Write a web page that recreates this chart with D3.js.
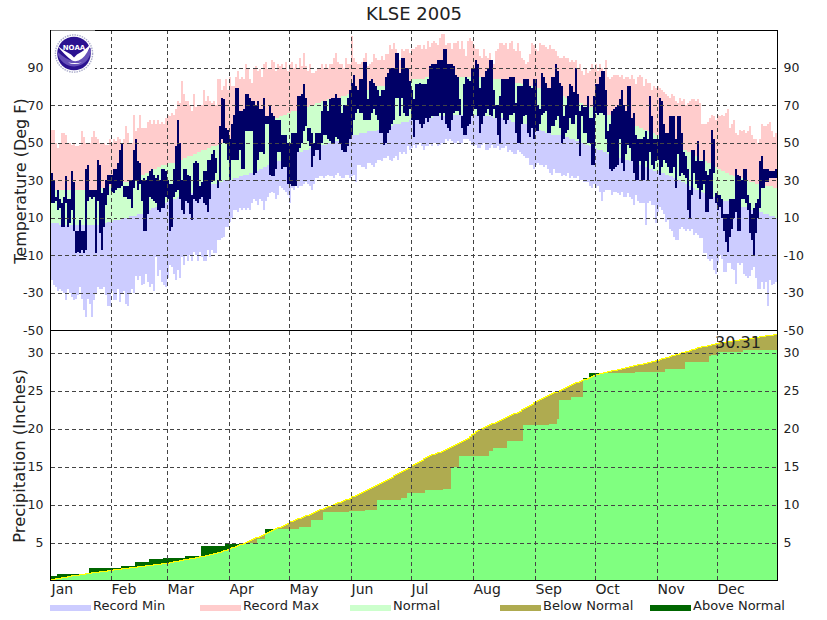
<!DOCTYPE html>
<html>
<head>
<meta charset="utf-8">
<title>KLSE 2005</title>
<script src="https://cdnjs.cloudflare.com/ajax/libs/d3/7.8.5/d3.min.js"></script>
<style>
  html, body { margin: 0; padding: 0; background: #fff; }
  text { font-family: "DejaVu Sans", sans-serif; fill: #222; }
  .grid line { stroke: #444; stroke-width: 1; stroke-dasharray: 4 3; }
</style>
</head>
<body>
<div class="canvas"></div>
<script>
/////////////////////////////////////////////////////
///////////// values ///////////
/////////////////////////////////////////////////////

// one line per month, one value per day (Deg F)
const recMin = [
  -23,-26,-27,-29,-28,-29,-30,-34,-28,-30,-32,-34,-33,-31,-27,-33,-39,-43,-33,-36,-43,-34,-30,-27,-28,-28,-27,-31,-37,-37,-29,
  -34,-34,-28,-35,-30,-29,-36,-37,-30,-28,-30,-21,-23,-21,-26,-25,-20,-24,-27,-25,-29,-11,-21,-18,-24,-26,-27,-22,
  -15,-16,-20,-23,-18,-22,-11,-15,-10,-13,-10,-13,-8,-10,-13,-8,-11,-13,-13,-7,-11,-7,-9,-9,-2,-2,-1,0,5,5,8,
  10,14,14,13,15,14,15,14,15,14,18,20,19,17,20,19,14,19,21,23,24,23,20,22,27,26,25,24,22,18,
  26,25,27,26,27,27,28,29,28,27,25,28,31,31,32,32,31,32,33,32,32,31,33,34,32,31,31,33,33,31,32,
  33,29,38,38,37,37,36,39,39,38,37,39,41,41,40,42,42,43,41,40,42,43,41,45,44,45,44,48,46,47,
  49,47,49,50,48,46,48,48,50,48,50,50,48,49,50,50,52,51,52,51,50,50,51,50,50,52,52,52,51,49,48,
  49,47,47,49,50,46,46,47,49,47,47,48,46,47,47,48,45,46,45,44,44,46,45,44,43,42,42,38,38,36,38,
  39,38,38,37,38,36,34,33,36,34,34,34,32,33,32,34,31,32,31,31,32,30,30,29,29,29,27,26,28,26,
  27,24,19,24,25,25,25,22,24,24,23,22,24,21,21,23,21,20,17,22,19,18,18,18,6,18,19,17,17,7,13,
  16,14,12,8,9,4,3,0,-2,-2,4,5,4,3,4,3,4,1,2,1,-1,-1,-9,-9,-12,-13,-12,-18,-20,-14,
  -10,-12,-19,-19,-14,-14,-17,-18,-25,-14,-15,-14,-20,-21,-22,-21,-18,-16,-22,-28,-28,-24,-28,-24,-37,-23,-26,-25,-24,-23,-22
];
const normLow = [
  7,7,7,7,6,6,6,6,6,6,6,6,6,6,6,6,6,6,6,6,6,6,6,6,7,7,7,7,8,8,8,
  9,9,9,9,10,10,10,10,11,11,11,11,12,12,12,13,13,14,14,15,15,16,16,17,17,18,18,19,
  19,20,20,20,21,21,21,22,22,22,23,23,24,24,25,25,26,26,27,27,27,28,28,28,29,29,29,30,30,30,30,
  30,31,31,31,32,32,33,33,33,34,34,35,35,35,36,36,37,37,38,38,39,39,39,40,40,41,41,42,42,43,
  43,44,44,45,45,45,46,46,46,47,47,47,48,48,48,49,49,49,50,50,50,51,51,51,52,52,52,53,53,53,54,
  54,54,54,55,55,55,55,56,56,56,56,56,57,57,57,57,58,58,59,59,60,60,60,60,61,61,61,61,62,62,
  62,62,62,63,63,63,63,63,63,63,64,64,64,64,64,64,64,64,64,64,65,65,65,65,65,65,65,65,65,65,65,
  65,65,65,64,64,64,64,64,64,63,63,63,63,63,62,62,62,62,61,61,61,61,60,60,60,60,60,59,59,58,58,
  57,57,56,56,55,55,55,54,54,54,54,54,54,53,53,53,52,52,52,51,51,50,50,50,49,49,48,48,47,47,
  46,46,46,45,45,44,44,43,43,43,42,42,42,41,41,41,40,40,39,39,39,38,38,37,37,36,36,36,35,35,35,
  35,34,34,33,33,32,32,31,31,30,30,29,29,28,27,27,26,26,25,25,24,24,23,23,22,22,21,21,21,20,
  20,20,19,19,19,18,18,18,17,17,17,16,16,16,15,15,14,14,14,13,13,13,12,12,12,11,11,11,10,10,10
];
const normHigh = [
  25,25,25,25,25,25,25,25,25,25,25,25,25,25,25,25,25,25,25,25,25,25,25,25,26,26,26,26,26,27,27,
  27,27,28,28,28,29,29,29,30,30,31,31,32,32,33,33,34,34,35,35,36,36,37,37,38,38,38,39,
  39,39,39,40,40,41,41,42,42,43,43,43,44,44,45,45,46,46,46,47,47,48,48,48,49,49,50,50,51,51,52,
  52,53,53,54,54,55,55,56,56,57,57,58,58,59,59,59,60,60,61,61,62,62,63,63,64,64,65,65,66,66,
  67,67,67,68,68,68,69,69,69,70,70,70,71,71,71,72,72,72,73,73,73,73,74,74,74,75,75,75,76,76,76,
  77,77,77,77,78,78,78,78,79,79,79,79,80,80,80,80,80,81,81,81,81,82,82,82,82,83,83,83,83,84,
  84,84,84,84,84,84,85,85,85,85,85,85,85,85,85,85,85,85,85,85,85,85,85,85,85,85,85,85,85,85,85,
  85,85,85,85,85,84,84,84,84,84,84,84,84,83,83,83,83,83,83,82,82,82,82,81,81,81,81,80,80,80,80,
  79,79,79,78,78,78,77,77,77,76,76,76,75,75,74,74,74,73,73,72,72,71,71,70,70,70,69,69,68,68,
  67,67,67,66,66,65,65,64,64,64,63,63,62,62,61,61,61,60,60,59,59,58,58,57,57,56,56,55,55,54,54,
  53,53,52,52,51,50,50,49,49,48,47,47,46,46,45,45,44,43,43,42,41,41,40,40,39,39,38,38,37,36,
  36,35,35,34,34,33,33,32,32,31,31,31,30,30,30,29,29,29,28,28,28,28,27,27,27,27,27,26,26,26,26
];
const recMax = [
  57,57,50,47,50,55,55,54,50,50,49,50,48,48,49,56,53,50,50,50,53,56,53,52,50,50,50,49,49,52,50,
  52,51,53,52,50,52,59,55,50,50,65,56,58,65,58,58,58,61,62,60,62,60,62,60,61,60,63,65,
  64,66,65,68,72,71,83,76,72,72,70,67,76,69,70,70,70,78,72,75,72,71,72,70,84,84,78,80,84,78,85,
  80,80,85,88,84,85,84,92,90,84,82,90,91,88,89,85,92,93,89,90,94,93,88,92,91,92,90,93,88,92,
  93,90,92,89,95,91,98,91,88,92,87,87,88,90,89,92,90,92,90,92,92,95,98,93,92,92,90,95,92,92,107,
  95,93,92,92,93,95,98,91,92,93,97,95,94,94,96,94,97,97,102,100,103,100,95,94,100,99,100,100,98,100,
  100,101,102,102,100,102,100,104,101,103,104,103,102,106,108,108,102,103,103,100,103,103,104,100,104,100,96,104,106,104,102,
  100,100,96,95,100,96,95,98,94,92,99,100,103,103,102,103,100,103,104,100,99,103,99,95,94,92,93,97,103,102,100,
  99,103,102,102,101,100,102,100,100,99,96,95,95,96,95,95,93,94,93,94,90,92,88,86,90,87,88,92,90,92,
  88,92,90,88,94,85,84,85,86,86,86,85,86,84,85,85,84,86,84,81,85,86,85,80,84,82,82,78,80,79,80,
  79,78,77,76,75,74,76,75,72,71,74,72,73,70,71,72,73,73,72,73,71,60,60,60,61,63,65,64,62,65,
  64,65,64,66,68,58,60,62,55,54,57,56,57,55,56,59,54,52,52,50,52,60,59,59,60,61,56,53,55,59,52
];
const obsLow = [
  18,18,19,14,15,5,5,18,5,7,14,3,-9,-8,-9,-7,-9,-7,19,21,20,21,-9,19,2,-7,5,17,22,28,24,
  23,25,26,26,27,21,21,20,20,15,26,30,25,28,19,3,3,12,21,20,19,18,14,13,15,15,21,20,
  3,5,21,24,25,20,14,12,19,18,12,9,20,19,18,20,21,18,17,13,20,29,30,34,26,30,52,50,50,41,30,
  41,41,41,41,46,36,36,56,56,56,56,33,34,41,45,45,44,60,60,33,32,32,36,45,45,36,37,37,28,28,
  27,27,27,45,47,50,56,59,51,48,37,43,46,46,41,50,54,54,52,51,50,50,53,52,50,46,45,45,48,52,54,
  62,66,68,66,66,62,62,62,62,66,68,65,62,55,55,49,50,55,57,60,62,74,74,64,74,66,64,64,68,62,
  53,62,62,60,58,60,63,61,63,64,64,64,64,66,62,66,60,58,56,62,66,67,67,65,58,54,54,59,60,64,68,
  68,64,55,60,64,66,68,65,64,68,63,54,50,66,62,60,62,65,65,66,55,50,50,60,64,65,55,53,58,52,56,
  56,60,65,66,67,55,55,59,59,62,64,58,50,52,55,57,63,60,60,65,52,43,64,55,55,50,50,38,38,66,
  65,66,66,65,52,45,36,35,36,37,38,52,39,35,44,49,47,40,34,30,30,40,30,30,40,30,45,38,36,40,41,
  33,37,41,39,37,34,34,37,26,44,32,34,33,31,14,10,22,34,28,26,20,25,28,13,13,20,20,34,18,14,
  16,10,3,-3,-8,0,4,10,13,3,3,20,20,18,14,2,-2,-10,2,10,15,26,26,29,29,31,31,31,31,32,32
];
const obsHigh = [
  34,30,21,25,20,18,21,32,20,20,35,29,3,3,9,3,3,36,38,25,25,25,25,41,38,23,26,30,33,33,33,
  36,36,39,46,50,27,27,27,30,30,46,52,40,39,30,31,30,32,35,36,33,31,33,30,36,36,35,30,
  28,28,36,48,62,50,30,36,36,33,32,22,39,40,39,27,29,35,35,41,41,44,46,42,30,59,74,73,58,57,52,
  60,65,79,79,67,67,68,76,76,74,72,72,70,72,68,68,74,64,64,70,66,64,62,62,62,54,54,54,50,50,
  55,55,55,75,75,76,81,74,58,58,55,50,55,55,55,67,72,72,67,73,74,74,76,74,74,66,70,70,74,78,82,
  86,80,78,84,84,93,93,73,83,84,82,80,78,75,78,78,85,87,90,90,90,98,98,87,95,95,90,90,83,78,
  73,81,81,82,81,81,81,84,91,92,92,92,94,94,94,100,100,92,92,92,91,86,85,73,64,81,85,84,83,90,90,
  94,92,79,85,85,88,90,94,94,78,70,70,75,84,84,84,84,85,85,85,71,80,80,80,84,84,84,80,79,84,84,
  70,68,87,85,82,79,79,85,85,92,88,82,80,64,70,75,81,80,77,90,76,67,70,69,69,75,63,63,75,81,
  81,85,88,88,78,56,60,67,68,69,70,73,78,70,67,80,80,63,66,54,52,52,52,53,56,52,75,64,52,52,52,
  74,72,60,55,55,64,64,64,52,64,64,55,45,43,36,25,46,46,40,51,40,40,46,35,33,36,57,52,23,22,
  22,20,12,12,12,20,20,20,36,33,32,30,36,36,22,18,12,15,18,20,40,43,36,36,36,35,35,35,36,36,36
];

// cumulative precipitation (Inches), one value per day
const precipNormal = [
  0.1,0.15,0.2,0.25,0.3,0.35,0.4,0.45,0.5,0.55,0.6,0.65,0.7,0.72,0.75,0.8,0.85,0.88,0.92,0.95,1.0,1.02,1.06,1.1,1.12,1.16,1.2,1.24,1.28,1.32,1.36,
  1.4,1.43,1.47,1.5,1.53,1.56,1.6,1.63,1.67,1.7,1.73,1.76,1.8,1.83,1.87,1.9,1.93,1.96,2.0,2.03,2.07,2.1,2.13,2.16,2.2,2.23,2.27,2.3,
  2.35,2.4,2.45,2.5,2.55,2.6,2.65,2.7,2.75,2.8,2.85,2.9,2.95,3.0,3.05,3.1,3.15,3.2,3.27,3.33,3.4,3.47,3.53,3.6,3.67,3.75,3.83,3.92,4.0,4.1,4.2,
  4.3,4.4,4.5,4.6,4.7,4.8,4.9,5.0,5.12,5.24,5.36,5.48,5.6,5.72,5.84,5.96,6.08,6.2,6.32,6.44,6.56,6.68,6.8,6.92,7.04,7.16,7.28,7.4,7.55,7.7,
  7.8,7.9,8.0,8.1,8.2,8.3,8.4,8.5,8.6,8.72,8.84,8.96,9.08,9.2,9.3,9.4,9.5,9.6,9.7,9.8,9.9,10.0,10.1,10.2,10.3,10.4,10.5,10.6,10.7,10.85,11.0,
  11.12,11.24,11.36,11.48,11.6,11.72,11.84,11.96,12.08,12.2,12.35,12.5,12.64,12.78,12.92,13.06,13.2,13.34,13.48,13.62,13.76,13.9,14.03,14.16,14.3,14.44,14.58,14.72,14.9,15.1,
  15.25,15.4,15.55,15.7,15.85,16,16.15,16.3,16.42,16.54,16.62,16.7,16.78,16.86,16.94,17.05,17.2,17.35,17.5,17.65,17.75,17.85,18,18.15,18.3,18.45,18.6,18.75,18.95,19.15,19.4,
  19.55,19.7,19.85,20,20.12,20.24,20.36,20.48,20.6,20.72,20.84,20.96,21.08,21.2,21.32,21.44,21.56,21.68,21.8,21.92,22.04,22.16,22.3,22.44,22.58,22.72,22.86,23,23.2,23.4,23.6,
  23.72,23.84,23.96,24.08,24.2,24.32,24.44,24.56,24.68,24.8,24.92,25.04,25.16,25.28,25.4,25.52,25.64,25.76,25.88,26,26.1,26.2,26.3,26.4,26.5,26.6,26.7,26.85,27,27.1,
  27.16,27.22,27.28,27.34,27.4,27.46,27.52,27.58,27.64,27.7,27.76,27.82,27.88,27.94,28,28.06,28.12,28.18,28.24,28.3,28.36,28.42,28.48,28.54,28.6,28.66,28.72,28.78,28.84,28.92,29,
  29.08,29.16,29.24,29.32,29.4,29.48,29.56,29.64,29.72,29.8,29.88,29.96,30.04,30.12,30.2,30.28,30.36,30.44,30.52,30.6,30.68,30.74,30.8,30.86,30.92,30.98,31.04,31.1,31.15,31.2,
  31.26,31.3,31.34,31.38,31.42,31.46,31.5,31.54,31.58,31.62,31.66,31.7,31.74,31.78,31.82,31.86,31.9,31.94,31.98,32.02,32.06,32.1,32.14,32.18,32.22,32.25,32.28,32.31,32.34,32.37,32.4
];
const precipObserved = [
  0.55,0.55,0.55,0.83,0.83,0.83,0.83,0.83,0.83,0.83,0.83,0.83,0.83,0.83,0.83,0.83,0.83,0.83,0.83,1.58,1.58,1.58,1.58,1.58,1.58,1.58,1.58,1.58,1.58,1.58,1.58,
  1.58,1.58,1.58,1.58,1.93,1.93,1.93,1.93,1.93,1.93,1.93,2.5,2.5,2.5,2.5,2.5,2.5,2.5,2.8,2.8,2.8,2.8,2.8,2.8,2.8,2.94,2.94,2.94,
  2.94,2.94,2.94,2.94,2.94,2.94,2.94,2.94,3.2,3.2,3.2,3.2,3.2,3.2,3.2,3.2,4.5,4.5,4.5,4.5,4.5,4.5,4.5,4.5,4.5,4.5,4.5,4.5,4.8,4.8,4.8,
  4.8,4.8,4.8,4.8,4.8,4.8,4.8,4.8,4.8,5.0,5.0,5.0,5.0,5.5,5.5,5.5,5.5,6.8,6.8,6.8,6.8,6.8,6.8,6.8,6.8,6.8,6.8,6.8,6.8,6.8,
  6.8,6.8,6.8,6.8,7,7,7,7.1,7.1,7.1,8,8,8,8,8,8,9,9,9,9,9,9,9,9,9,9,9,9,9,9.2,9.2,
  9.2,9.2,9.2,9.2,9.2,9.2,9.3,9.3,9.3,9.3,9.3,9.3,10.6,10.6,10.6,10.6,10.6,10.6,10.6,10.6,10.6,10.6,10.6,10.6,10.85,10.85,10.85,11.5,11.5,11.5,
  11.5,11.5,11.5,11.5,11.5,11.5,11.9,11.9,11.9,11.9,11.9,11.9,11.9,11.9,11.9,12.1,12.1,12.1,12.1,14.9,14.9,14.9,14.9,16.4,16.4,16.4,16.4,16.4,16.4,16.4,16.4,
  16.4,16.4,16.4,16.4,16.4,16.4,16.4,17,17,17.5,17.5,17.5,17.5,17.5,17.5,17.5,18.4,18.4,18.4,18.4,18.4,18.4,18.4,18.4,20.4,20.4,20.4,20.4,20.4,20.4,20.4,
  20.4,20.5,20.5,20.5,20.5,20.5,20.6,20.6,20.6,20.6,21.2,23.8,23.8,23.8,23.8,23.8,23.8,24.2,24.2,24.2,24.2,24.2,24.2,26.7,26.7,26.7,27.3,27.3,27.3,27.3,
  27.3,27.3,27.3,27.3,27.3,27.3,27.3,27.3,27.3,27.3,27.3,27.3,27.3,27.3,27.3,27.3,27.3,27.3,27.3,27.5,27.5,27.5,27.5,27.5,27.5,27.5,27.5,27.5,27.5,27.5,27.5,
  27.5,27.5,27.5,27.85,27.85,27.85,27.85,27.85,27.85,27.85,27.85,27.85,27.85,28.7,28.7,28.7,28.7,28.7,28.7,28.7,28.7,28.7,28.7,28.7,28.8,29.5,29.7,29.7,29.7,30.1,
  30.1,30.1,30.1,30.1,30.1,30.1,30.1,30.1,30.1,30.1,30.1,30.1,30.31,30.31,30.31,30.31,30.31,30.31,30.31,30.31,30.31,30.31,30.31,30.31,30.31,30.31,30.31,30.31,30.31,30.31,30.31
];

const months = ['Jan', 'Feb', 'Mar', 'Apr', 'May', 'Jun', 'Jul', 'Aug', 'Sep', 'Oct', 'Nov', 'Dec'];
const monthDays = [1, 31, 59, 90, 120, 151, 181, 212, 243, 273, 304, 334];
const tempTicks = [-50, -30, -10, 10, 30, 50, 70, 90];
const precipTicks = [5, 10, 15, 20, 25, 30];
const precipTotal = '30.31';

const legendNames = ['Record Min', 'Record Max', 'Normal', 'Below Normal', 'Above Normal'];
const legendColors = ['#ccccff', '#ffcccc', '#ccffcc', '#afab50', '#006600'];

/////////////////////////////////////////////////////
///////////////// chart set up //////////////////////
/////////////////////////////////////////////////////

const dims = { width: 827, height: 620, left: 50.5, right: 777.5, top: 30, mid: 330.5, bottom: 580.5 };
const days = d3.range(1, recMin.length + 1);

const svg = d3.select('.canvas')
  .append('svg')
  .attr('width', dims.width)
  .attr('height', dims.height)
  .style('display', 'block');

svg.append('clipPath').attr('id', 'plot')
  .append('rect')
  .attr('x', dims.left)
  .attr('y', dims.top)
  .attr('width', dims.right - dims.left)
  .attr('height', dims.bottom - dims.top);

// every day is exactly 2px wide
const x = d3.scaleLinear().domain([1, 365]).range([51, 779]);
const yTemp = d3.scaleLinear().domain([-50, 110]).range([dims.mid, dims.top]);
const yPrecip = d3.scaleLinear().domain([0, 32.9]).range([dims.bottom, dims.mid]);

const marks = svg.append('g').attr('clip-path', 'url(#plot)');

/////////////////////////////////////////////////////
//////////////// temperature panel //////////////////
/////////////////////////////////////////////////////

// one band of daily bars from lo[] up to hi[]
const band = (lo, hi, color) => {
  marks.append('g')
    .attr('shape-rendering', 'crispEdges')
    .selectAll('rect')
    .data(days)
    .enter()
    .append('rect')
    .attr('x', d => x(d))
    .attr('width', 2)
    .attr('y', d => yTemp(hi[d - 1]))
    .attr('height', d => Math.max(0, yTemp(lo[d - 1]) - yTemp(hi[d - 1])))
    .attr('fill', color);
};

band(recMin, normLow, '#ccccff');
band(normLow, normHigh, '#ccffcc');
band(normHigh, recMax, '#ffcccc');
band(obsLow, obsHigh, '#000066');

/////////////////////////////////////////////////////
/////////////// precipitation panel /////////////////
/////////////////////////////////////////////////////

const precipArea = values => d3.area()
  .curve(d3.curveStepAfter)
  .x(d => x(d))
  .y0(dims.bottom)
  .y1(d => yPrecip(values(d)))(days);

// above normal sits behind, normal covers it, what actually fell goes on top
const precipMarks = marks.append('g').attr('shape-rendering', 'crispEdges');
precipMarks.append('path').attr('d', precipArea(d => precipObserved[d - 1])).attr('fill', '#006600');
precipMarks.append('path').attr('d', precipArea(d => precipNormal[d - 1])).attr('fill', '#afab50');
precipMarks.append('path')
  .attr('d', precipArea(d => Math.min(precipNormal[d - 1], precipObserved[d - 1])))
  .attr('fill', '#80ff80');

precipMarks.append('path')
  .attr('d', d3.line().curve(d3.curveStepAfter).x(d => x(d)).y(d => yPrecip(precipNormal[d - 1]))(days))
  .attr('fill', 'none')
  .attr('stroke', '#ffff00')
  .attr('stroke-width', 1);

/////////////////////////////////////////////////////
///////////////// grid and axes /////////////////////
/////////////////////////////////////////////////////

const grid = svg.append('g').attr('class', 'grid').attr('shape-rendering', 'crispEdges');

grid.selectAll('.v')
  .data(monthDays.slice(1))
  .enter()
  .append('line')
  .attr('x1', d => x(d) + 0.5)
  .attr('x2', d => x(d) + 0.5)
  .attr('y1', dims.top)
  .attr('y2', dims.bottom);

grid.selectAll('.t')
  .data(tempTicks.slice(1))
  .enter()
  .append('line')
  .attr('x1', dims.left)
  .attr('x2', dims.right)
  .attr('y1', d => Math.round(yTemp(d)) + 0.5)
  .attr('y2', d => Math.round(yTemp(d)) + 0.5);

grid.selectAll('.p')
  .data(precipTicks)
  .enter()
  .append('line')
  .attr('x1', dims.left)
  .attr('x2', dims.right)
  .attr('y1', d => Math.round(yPrecip(d)) + 0.5)
  .attr('y2', d => Math.round(yPrecip(d)) + 0.5);

// frame and the line between the two panels
svg.append('rect')
  .attr('x', dims.left)
  .attr('y', dims.top + 0.5)
  .attr('width', dims.right - dims.left)
  .attr('height', dims.bottom - dims.top - 0.5)
  .attr('fill', 'none')
  .attr('stroke', '#000');
svg.append('line')
  .attr('x1', dims.left)
  .attr('x2', dims.right)
  .attr('y1', dims.mid)
  .attr('y2', dims.mid)
  .attr('stroke', '#000');

const styleAxis = (g, size) => {
  g.select('.domain').remove();
  g.selectAll('text').style('font-size', size + 'px').attr('fill', '#222');
};

svg.append('g')
  .attr('transform', `translate(${dims.left},0)`)
  .call(d3.axisLeft(yTemp).tickValues(tempTicks).tickSize(0).tickPadding(7).tickFormat(d => d))
  .call(styleAxis, 12.5);
svg.append('g')
  .attr('transform', `translate(${dims.right},0)`)
  .call(d3.axisRight(yTemp).tickValues(tempTicks).tickSize(0).tickPadding(6).tickFormat(d => d))
  .call(styleAxis, 12.5);
svg.append('g')
  .attr('transform', `translate(${dims.left},0)`)
  .call(d3.axisLeft(yPrecip).tickValues(precipTicks).tickSize(0).tickPadding(7))
  .call(styleAxis, 12.5);
svg.append('g')
  .attr('transform', `translate(${dims.right},0)`)
  .call(d3.axisRight(yPrecip).tickValues(precipTicks).tickSize(0).tickPadding(6))
  .call(styleAxis, 12.5);

// month names start at their gridline, not centred on it
svg.append('g')
  .attr('transform', `translate(0,${dims.bottom})`)
  .call(d3.axisBottom(x).tickValues(monthDays).tickSize(0).tickFormat((d, i) => months[i]))
  .call(styleAxis, 14)
  .selectAll('text')
  .attr('text-anchor', 'start')
  .attr('y', 13)
  .attr('dy', 0);

/////////////////////////////////////////////////////
//////////////// text and legend ////////////////////
/////////////////////////////////////////////////////

svg.append('text')
  .attr('x', 414)
  .attr('y', 20)
  .attr('text-anchor', 'middle')
  .style('font-size', '18px')
  .text('KLSE 2005');

svg.append('text')
  .attr('transform', 'translate(26,181) rotate(-90)')
  .attr('text-anchor', 'middle')
  .style('font-size', '16px')
  .text('Temperature (Deg F)');

svg.append('text')
  .attr('transform', 'translate(25,456) rotate(-90)')
  .attr('text-anchor', 'middle')
  .style('font-size', '16.4px')
  .text('Precipitation (Inches)');

svg.append('text')
  .attr('x', 715)
  .attr('y', 348)
  .style('font-size', '16px')
  .text(precipTotal);

const legend = svg.selectAll('.legend')
  .data(legendNames)
  .enter()
  .append('g')
  .attr('transform', (d, i) => `translate(${50 + i * 150},0)`);
legend.append('rect')
  .attr('y', 605)
  .attr('width', 41)
  .attr('height', 6)
  .attr('fill', (d, i) => legendColors[i]);
legend.append('text')
  .attr('x', 43)
  .attr('y', 610)
  .style('font-size', '13px')
  .text(d => d);

/////////////////////////////////////////////////////
///////////////// NOAA logo /////////////////////////
/////////////////////////////////////////////////////

const logo = svg.append('g').attr('transform', 'translate(74,53.5)');
logo.append('rect').attr('x', -23).attr('y', -23).attr('width', 44).attr('height', 45).attr('fill', '#fff');
logo.append('circle').attr('r', 18.6).attr('fill', '#fff').attr('stroke', '#a9abca').attr('stroke-width', 1.4).attr('stroke-dasharray', '1.5 1');
logo.append('circle').attr('r', 16.8).attr('fill', '#2b1290');
// lower part of the disc, then the white gull across it
logo.append('path')
  .attr('d', 'M-16.8,-2 Q-6,8 0,7 Q8,6 16.8,-6 A16.8,16.8 0 0 1 -16.8,-2 Z')
  .attr('fill', '#6650b8');
logo.append('path')
  .attr('d', 'M-17,-8 Q-9,2 -2,7 Q3,9 8,5 Q14,0 17,-10 Q11,-3 3,1 L0,4 L-3,1 Q-11,-3 -17,-8 Z M-6,9 Q0,12 8,9 Q1,10 -6,9 Z')
  .attr('fill', '#fff');
logo.append('text')
  .attr('y', -4)
  .attr('text-anchor', 'middle')
  .style('font-size', '7px')
  .style('font-weight', 'bold')
  .style('fill', '#fff')
  .text('NOAA');
</script>
</body>
</html>
